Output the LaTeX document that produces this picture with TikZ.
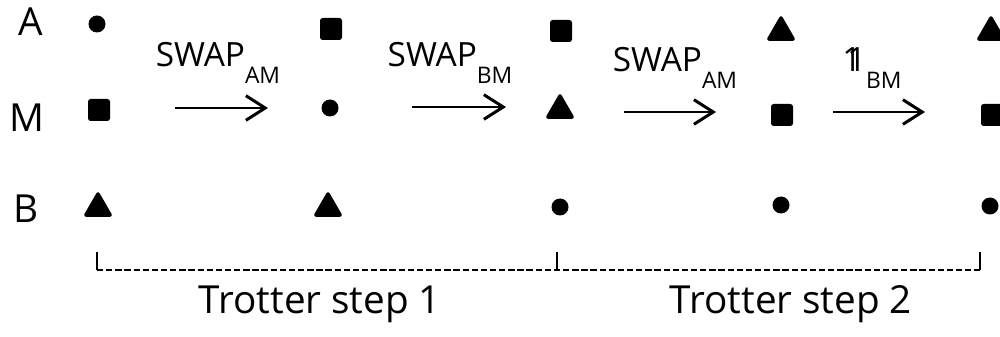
\documentclass[tikz,border=0pt]{standalone}
\usepackage{fontspec}
\setmainfont{Open Sans}
\usetikzlibrary{shapes.geometric,arrows.meta}
\tikzset{
  dotshape/.style={circle,fill=black,inner sep=0pt,minimum size=0.34cm},
  sqshape/.style={rectangle,fill=black,rounded corners=1.5pt,inner sep=0pt,minimum size=0.44cm},
  trishape/.style={regular polygon,regular polygon sides=3,fill=black,draw=black,line width=2pt,line join=round,inner sep=0pt,minimum size=0.56cm},
  rowlabel/.style={font=\fontsize{22}{26}\selectfont,inner sep=0pt},
  oplabel/.style={font=\fontsize{19}{22}\selectfont,inner sep=0pt},
  steplabel/.style={font=\fontsize{22}{26}\selectfont,inner sep=0pt},
  swaparrow/.style={line width=1.7pt,-{Straight Barb[length=11pt,width=14pt,line width=1.7pt]}},
  bracket/.style={line width=1.3pt,dash pattern=on 3.6pt off 1.6pt},
}
\newcommand{\subs}[1]{\raisebox{-0.5em}{\fontsize{13}{15}\selectfont #1}}
\newcommand{\dsone}{\rlap{1}\kern0.14em 1}
\begin{document}
\begin{tikzpicture}[x=0.2mm,y=-0.2mm]
\useasboundingbox (0,0) rectangle (1000,337);
\clip (0,0) rectangle (1000,337);
% row labels
\node[rowlabel] (lA) at (31,22) {A};
\node[rowlabel] (lM) at (27,118) {M};
\node[rowlabel] (lB) at (26,209) {B};
% column 1
\node[dotshape] (a1) at (97,24) {};
\node[sqshape] (m1) at (99,110) {};
\node[trishape] (b1) at (98,208) {};
% column 2
\node[sqshape] (a2) at (331,29) {};
\node[dotshape] (m2) at (330,108) {};
\node[trishape] (b2) at (328,208) {};
% column 3
\node[sqshape] (a3) at (561,31) {};
\node[trishape] (m3) at (560,110) {};
\node[dotshape] (b3) at (560,207) {};
% column 4
\node[trishape] (a4) at (781,32) {};
\node[sqshape] (m4) at (782,115) {};
\node[dotshape] (b4) at (781,205) {};
% column 5
\node[trishape] (a5) at (991,32) {};
\node[sqshape] (m5) at (992,115) {};
\node[dotshape] (b5) at (990,206) {};
% arrows
\coordinate (s1) at (175,108); \coordinate (e1) at (268,108);
\coordinate (s2) at (412,107); \coordinate (e2) at (506,107);
\coordinate (s3) at (624,112); \coordinate (e3) at (716,112);
\coordinate (s4) at (833,112); \coordinate (e4) at (925,112);
\draw[swaparrow] (s1) -- (e1);
\draw[swaparrow] (s2) -- (e2);
\draw[swaparrow] (s3) -- (e3);
\draw[swaparrow] (s4) -- (e4);
% operator labels
\node[oplabel] (o1) at (218,63) {SWAP\subs{AM}};
\node[oplabel] (o2) at (450,63) {SWAP\subs{BM}};
\node[oplabel] (o3) at (675,68) {SWAP\subs{AM}};
\node[oplabel] (o4) at (872,68) {\dsone\subs{BM}};
% Trotter bracket
\coordinate (t0) at (97,252); \coordinate (b0) at (97,270);
\coordinate (t1) at (557,252); \coordinate (b1c) at (557,270);
\coordinate (t2) at (980,252); \coordinate (b2c) at (980,270);
\draw[line width=1.3pt] (t0) -- (b0);
\draw[line width=1.3pt] (t1) -- (b1c);
\draw[line width=1.3pt] (t2) -- (b2c);
\draw[bracket] (b0) -- (b1c) -- (b2c);
\node[steplabel] (ts1) at (320,304) {Trotter step 1};
\node[steplabel] (ts2) at (791,304) {Trotter step 2};
\end{tikzpicture}
\end{document}
